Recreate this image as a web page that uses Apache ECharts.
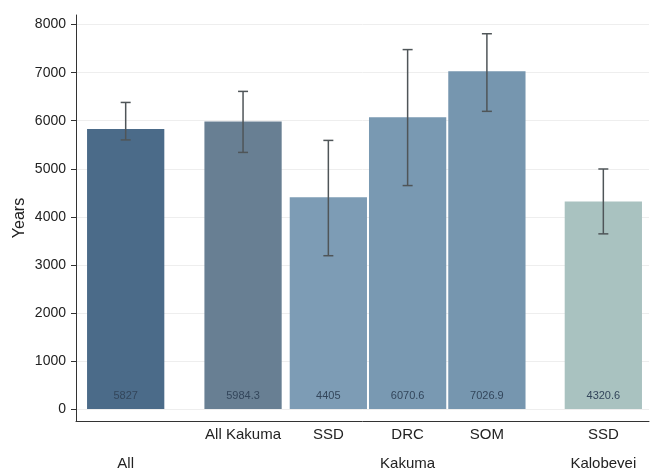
<!DOCTYPE html>
<html>
<head>
<meta charset="utf-8">
<script src="https://cdn.jsdelivr.net/npm/echarts@6/dist/echarts.min.js"></script>
<style>
  html, body { margin: 0; padding: 0; background: #ffffff; }
  #chart { width: 651px; height: 468px; }
</style>
</head>
<body>
<div id="chart"></div>
<script>
// ---- Data ----
// First-row labels, one per bar
const barNames = ['', 'All Kakuma', 'SSD', 'DRC', 'SOM', 'SSD'];
// Second-row labels and the bars each one spans
const groupNames = ['All', 'Kakuma', 'Kalobeyei'];
const groupMembers = [[0], [2, 3, 4], [5]];
// Mean years and 95% confidence bounds
const meanYears = [5827, 5984.3, 4405, 6070.6, 7026.9, 4320.6];
const ciLower = [5600, 5340, 3190, 4650, 6195, 3645];
const ciUpper = [6380, 6610, 5590, 7480, 7810, 4995];
// Y axis tick values
const yTicks = [0, 1000, 2000, 3000, 4000, 5000, 6000, 7000, 8000];

// ---- Styling / layout ----
const barColors = ['#4b6b89', '#687f93', '#7d9cb5', '#7999b2', '#7696af', '#a9c2c0'];
const FONT = '"Liberation Sans", Arial, sans-serif';
// spacing before each bar, measured in bar widths
const gapBefore = [0.143, 0.519, 0.104, 0.026, 0.026, 0.507];
const trailingGap = 0.091;

const barLeft = [];
let cursor = 0;
gapBefore.forEach(g => { cursor += g; barLeft.push(cursor); cursor += 1; });
const xMax = cursor + trailingGap;
const barCenter = barLeft.map(l => l + 0.5);
const groupCenter = groupMembers.map(m => (barLeft[m[0]] + barLeft[m[m.length - 1]] + 1) / 2);

function labelAt(positions, names, v) {
  for (let i = 0; i < positions.length; i++) {
    if (Math.abs(positions[i] - v) < 1e-6) return names[i];
  }
  return '';
}

const chart = echarts.init(document.getElementById('chart'), null, { renderer: 'canvas' });

const option = {
  animation: false,
  backgroundColor: '#ffffff',
  grid: { left: 76, right: 2, top: 15, bottom: 47, containLabel: false, outerBoundsMode: 'none' },
  xAxis: [
    {
      type: 'value', min: 0, max: xMax,
      axisLine: { show: true, onZero: false, lineStyle: { color: '#333333', width: 1 } },
      axisTick: { show: false },
      splitLine: { show: false },
      axisLabel: {
        customValues: barCenter,
        formatter: v => labelAt(barCenter, barNames, v),
        margin: 6, fontSize: 15, color: '#222222', fontFamily: FONT
      }
    },
    {
      type: 'value', min: 0, max: xMax, position: 'bottom',
      axisLine: { show: false },
      axisTick: { show: false },
      splitLine: { show: false },
      axisLabel: {
        customValues: groupCenter,
        formatter: v => labelAt(groupCenter, groupNames, v),
        margin: 35, fontSize: 15, color: '#222222', fontFamily: FONT
      }
    }
  ],
  yAxis: {
    type: 'value', min: -250, max: 8200,
    name: 'Years', nameLocation: 'middle', nameGap: 48, nameMoveOverlap: false,
    nameTextStyle: { fontSize: 16, color: '#222222', fontFamily: FONT },
    axisLine: { show: true, lineStyle: { color: '#333333', width: 1 } },
    axisTick: { show: true, customValues: yTicks, length: 5, lineStyle: { color: '#333333' } },
    axisLabel: {
      customValues: yTicks, margin: 10, fontSize: 14, color: '#222222', fontFamily: FONT,
      formatter: v => String(v)
    },
    splitLine: { show: true, lineStyle: { color: '#eeeeee', width: 1 } }
  },
  series: [
    {
      // bars with their value printed near the base
      type: 'custom',
      xAxisIndex: 0,
      encode: { x: [0, 1], y: 2 },
      data: meanYears.map((m, i) => [barLeft[i], barLeft[i] + 1, m, i]),
      renderItem: function (params, api) {
        const i = api.value(3);
        const p0 = api.coord([api.value(0), 0]);
        const p1 = api.coord([api.value(1), api.value(2)]);
        return {
          type: 'group',
          children: [
            {
              type: 'rect',
              shape: { x: p0[0], y: p1[1], width: p1[0] - p0[0], height: p0[1] - p1[1] },
              style: { fill: barColors[i] }
            },
            {
              type: 'text',
              z2: 10,
              style: {
                text: String(meanYears[i]),
                x: (p0[0] + p1[0]) / 2, y: p0[1] - 13,
                align: 'center', verticalAlign: 'middle',
                fill: '#33465b', font: '11px ' + FONT
              }
            }
          ]
        };
      }
    },
    {
      // confidence interval caps
      type: 'custom',
      xAxisIndex: 0,
      encode: { x: 0, y: [1, 2] },
      data: barCenter.map((c, i) => [c, ciLower[i], ciUpper[i]]),
      z: 3,
      renderItem: function (params, api) {
        const lo = api.coord([api.value(0), api.value(1)]);
        const hi = api.coord([api.value(0), api.value(2)]);
        const half = 5;
        const st = { stroke: '#4f5558', lineWidth: 1.5 };
        return {
          type: 'group',
          children: [
            { type: 'line', shape: { x1: hi[0], y1: hi[1], x2: lo[0], y2: lo[1] }, style: st },
            { type: 'line', shape: { x1: hi[0] - half, y1: hi[1], x2: hi[0] + half, y2: hi[1] }, style: st },
            { type: 'line', shape: { x1: lo[0] - half, y1: lo[1], x2: lo[0] + half, y2: lo[1] }, style: st }
          ]
        };
      }
    }
  ]
};

chart.setOption(option);
</script>
</body>
</html>
